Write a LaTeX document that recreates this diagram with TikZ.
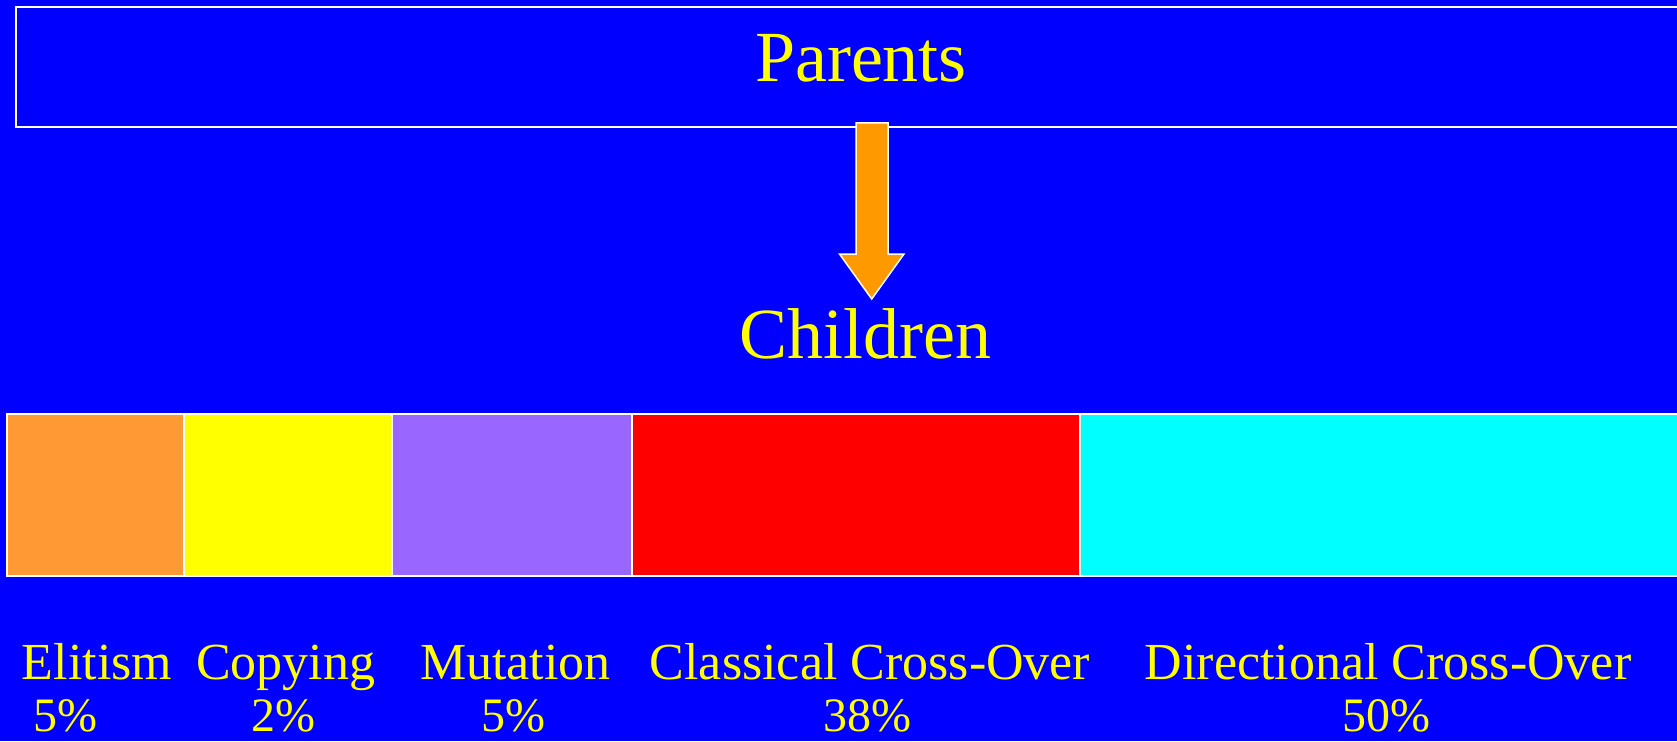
\documentclass[tikz,border=0pt]{standalone}
\usepackage{fontspec}
\setmainfont{Liberation Serif}
\definecolor{bgblue}{HTML}{0000FF}
\definecolor{txtyellow}{HTML}{FFFF00}
\definecolor{arroworange}{HTML}{FF9900}
\definecolor{elitecol}{HTML}{FF9933}
\definecolor{copycol}{HTML}{FFFF00}
\definecolor{mutcol}{HTML}{9966FF}
\definecolor{classcol}{HTML}{FF0000}
\definecolor{dircol}{HTML}{00FFFF}
\begin{document}
\begin{tikzpicture}[x=1pt, y=-1pt, line join=miter,
  panel/.style={draw=white, line width=2pt},
  label/.style={text=txtyellow, font=\fontsize{52}{52}\selectfont, anchor=base, inner sep=0pt},
  share/.style={label, font=\fontsize{48}{48}\selectfont, text depth=0pt},
  title/.style={text=txtyellow, font=\fontsize{72}{72}\selectfont, anchor=base, inner sep=0pt}]
% background and frame
\fill[bgblue] (0,0) rectangle (1677,741);
\useasboundingbox (0,0) rectangle (1677,741);
\clip (0,0) rectangle (1677,741);

% parents box
\draw[panel, fill=bgblue] (16,7) rectangle (1700,127);
\node[title] (parents) at (861,82) {Parents};

% block arrow from parents to children
\coordinate (atip) at (871.7,299);
\draw[draw=white, line width=1.5pt, fill=arroworange]
  (856,123) -- (888,123) -- (888,254) -- (904,254) -- (atip)
  -- (839.5,254) -- (856,254) -- cycle;

\node[title] (children) at (865,358) {Children};

% population shares
\draw[panel, fill=elitecol]  (7,414)   rectangle (184,576);
\draw[panel, fill=copycol]   (184,414) rectangle (392,576);
\draw[panel, fill=mutcol]    (392,414) rectangle (632,576);
\draw[panel, fill=classcol]  (632,414) rectangle (1080,576);
\draw[panel, fill=dircol]    (1080,414) rectangle (1700,576);

% operator names and percentages
\node[label] (elit)  at (97,679)    {Elitism};
\node[label] (copy)  at (285.6,679) {Copying};
\node[label] (mut)   at (515.5,679) {Mutation};
\node[label] (cls)   at (870,679)   {Classical Cross-Over};
\node[label] (dir)   at (1388,679)  {Directional Cross-Over};

\node[share] (elitp) at (65,731)    {5\%};
\node[share] (copyp) at (283.5,731) {2\%};
\node[share] (mutp)  at (513,731)   {5\%};
\node[share] (clsp)  at (867,731)   {38\%};
\node[share] (dirp)  at (1386,731)  {50\%};
\end{tikzpicture}
\end{document}
